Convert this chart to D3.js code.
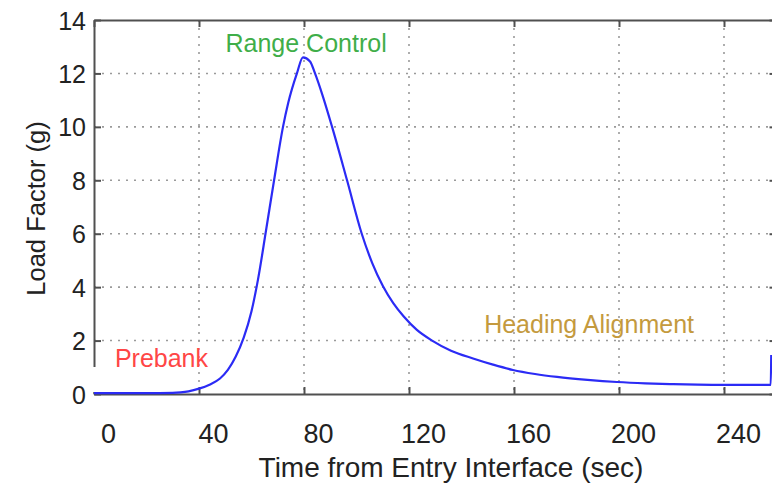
<!DOCTYPE html>
<html>
<head>
<meta charset="utf-8">
<script src="https://cdn.jsdelivr.net/npm/d3@7"></script>
<style>
  html, body { margin: 0; padding: 0; background: #fff; }
  svg { display: block; }
  text { font-family: "Liberation Sans", Arial, sans-serif; }
</style>
</head>
<body>
<svg id="chart" width="772" height="485"></svg>
<script>
// Entry load factor history
const timeSec = [0, 10, 20, 30, 33, 36, 40, 44, 48, 51, 54, 57, 60, 62.5, 65.5, 68.6, 72, 74, 77.3, 79.6,
  82.3, 84.2, 87, 90.7, 96.4, 102, 106, 110, 114, 118, 123, 128.8, 136, 144.4, 152, 159.6, 168, 176.4,
  188, 199.2, 210, 220.6, 230, 239.6, 250, 257.8, 258];
const loadG = [0.03, 0.03, 0.03, 0.04, 0.06, 0.1, 0.2, 0.35, 0.58, 0.9, 1.4, 2.1, 3.1, 4.3, 6.1, 8.0, 10.0, 10.9, 12.0, 12.6,
  12.45, 12.0, 11.2, 10.0, 8.0, 6.0, 4.9, 4.05, 3.4, 2.9, 2.4, 2.0, 1.62, 1.33, 1.1, 0.9, 0.75, 0.64,
  0.53, 0.45, 0.4, 0.37, 0.35, 0.34, 0.34, 0.34, 1.46];

const xTicks = [0, 40, 80, 120, 160, 200, 240];
const yTicks = [0, 2, 4, 6, 8, 10, 12, 14];

const phases = [
  { name: "Prebank", t: 25.7, g: 1.0, color: "#ff4646" },
  { name: "Range Control", t: 80.8, g: 12.8, color: "#3fae49" },
  { name: "Heading Alignment", t: 188.6, g: 2.28, color: "#c49a3e" }
];

const svg = d3.select("#chart");
const plotLeft = 94, plotTop = 20, plotBottom = 394;
const x = d3.scaleLinear().domain([0, 260]).range([plotLeft, plotLeft + 260 * 2.625]);
const y = d3.scaleLinear().domain([0, 14]).range([plotBottom, plotTop]);
const plotRight = x.range()[1];

// dotted grid
const grid = svg.append("g").attr("stroke", "#9a9a9a").attr("stroke-width", 1.6)
  .attr("stroke-dasharray", "2,6");
grid.selectAll("line.v").data(xTicks.filter(d => d > 0)).join("line").attr("class", "v")
  .attr("x1", d => x(d)).attr("x2", d => x(d)).attr("y1", plotTop).attr("y2", plotBottom);
grid.selectAll("line.h").data(yTicks.filter(d => d > 0 && d < 14)).join("line").attr("class", "h")
  .attr("x1", plotLeft).attr("x2", plotRight).attr("y1", d => y(d)).attr("y2", d => y(d));

// axes
const axisColor = "#505050";
const gx = svg.append("g").attr("transform", `translate(0,${plotBottom})`)
  .call(d3.axisBottom(x).tickValues(xTicks).tickSizeInner(-7).tickSizeOuter(0).tickPadding(0));
gx.selectAll("text").attr("font-size", 27).attr("fill", "#222").attr("dx", 14).attr("dy", 0)
  .attr("y", 49);
const gxTop = svg.append("g").attr("transform", `translate(0,${plotTop})`)
  .call(d3.axisTop(x).tickValues(xTicks).tickSizeInner(-7).tickSizeOuter(0).tickFormat(""));
const gy = svg.append("g").attr("transform", `translate(${plotLeft},0)`)
  .call(d3.axisLeft(y).tickValues(yTicks).tickSizeInner(-7).tickSizeOuter(0).tickPadding(8));
gy.selectAll("text").attr("font-size", 25).attr("fill", "#222").attr("dy", "0.36em");
const gyRight = svg.append("g").attr("transform", `translate(${plotRight},0)`)
  .call(d3.axisRight(y).tickValues(yTicks).tickSizeInner(-7).tickSizeOuter(0).tickFormat(""));
[gx, gxTop, gy, gyRight].forEach(g => {
  g.select(".domain").attr("stroke", axisColor).attr("stroke-width", 2);
  g.selectAll(".tick line").attr("stroke", axisColor).attr("stroke-width", 2);
});

// label background under the prebank note
svg.append("rect").attr("x", plotLeft - 2).attr("y", 367).attr("width", 5).attr("height", 25).attr("fill", "#fff");

// load factor curve
const line = d3.line().x(d => x(d[0])).y(d => y(d[1])).curve(d3.curveMonotoneX);
svg.append("path")
  .datum(timeSec.map((t, i) => [t, loadG[i]]))
  .attr("d", line)
  .attr("fill", "none")
  .attr("stroke", "#2b2bf5")
  .attr("stroke-width", 2.2)
  .attr("stroke-linejoin", "round");

// phase notes
svg.selectAll("text.phase").data(phases).join("text")
  .attr("class", "phase")
  .attr("x", d => x(d.t)).attr("y", d => y(d.g))
  .attr("text-anchor", "middle")
  .attr("font-size", 25)
  .attr("fill", d => d.color)
  .text(d => d.name);

// axis titles
svg.append("text").attr("x", 451).attr("y", 477).attr("text-anchor", "middle")
  .attr("font-size", 28).attr("fill", "#222").text("Time from Entry Interface (sec)");
svg.append("text").attr("transform", "translate(45,208.5) rotate(-90)").attr("text-anchor", "middle")
  .attr("font-size", 25.5).attr("fill", "#222").text("Load Factor (g)");
</script>
</body>
</html>
